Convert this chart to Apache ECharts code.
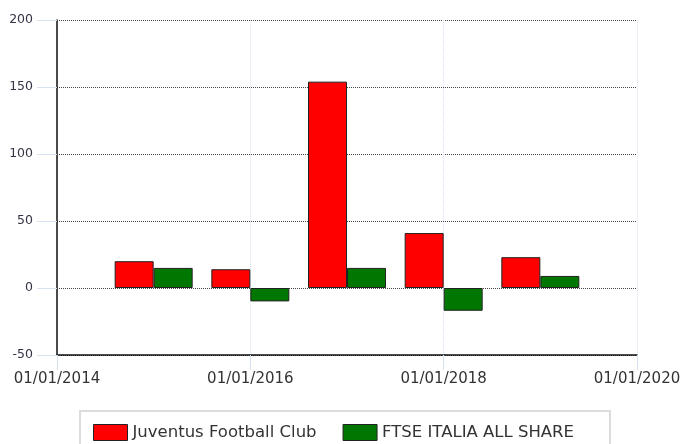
<!DOCTYPE html>
<html>
<head>
<meta charset="utf-8">
<script src="https://cdn.jsdelivr.net/npm/echarts@6/dist/echarts.min.js"></script>
<style>
html, body { margin: 0; padding: 0; background: #fff; }
#chart { width: 680px; height: 444px; }
</style>
</head>
<body>
<div id="chart"></div>
<script>
// bars sit on 1 January of each year
var years = [2015, 2016, 2017, 2018, 2019];
var juventus = [20, 14, 154, 41, 23];
var ftse = [15, -10, 15, -17, 9];
var seriesNames = ['Juventus Football Club', 'FTSE ITALIA ALL SHARE'];

function pairs(vals) {
    return years.map(function(y, i) { return [y, vals[i]]; });
}

var chart = echarts.init(document.getElementById('chart'));
var option = {
    animation: false,
    backgroundColor: '#fff',
    grid: { left: 57, right: 43, top: 20, bottom: 89, outerBoundsMode: 'none' },
    graphic: [{
        type: 'rect',
        shape: { x: 80, y: 411, width: 530, height: 40 },
        style: { fill: 'none', stroke: '#dcdcdc', lineWidth: 2 },
        silent: true
    }],
    legend: {
        left: 93, top: 424,
        padding: 0,
        icon: 'rect',
        itemWidth: 34, itemHeight: 16,
        itemGap: 26,
        itemStyle: { borderColor: '#222', borderWidth: 1 },
        textStyle: { fontFamily: 'DejaVu Sans', fontSize: 16.5, color: '#333' },
        data: seriesNames
    },
    xAxis: {
        type: 'value',
        min: 2014, max: 2020, interval: 2,
        axisLine: { onZero: false, lineStyle: { color: '#111', width: 1.5 } },
        axisTick: { show: true, length: 15, lineStyle: { color: '#d4e2f2' } },
        axisLabel: {
            margin: 17,
            fontFamily: 'DejaVu Sans', fontSize: 15, color: '#333',
            formatter: function(v) { return '01/01/' + v; }
        },
        splitLine: { show: true, lineStyle: { color: '#d4e2f2', type: 'dotted' } }
    },
    yAxis: {
        type: 'value',
        min: -50, max: 200, interval: 50,
        axisLine: { show: true, onZero: false, lineStyle: { color: '#111', width: 1.5 } },
        axisTick: { show: true, length: 20, lineStyle: { color: '#d4e2f2' } },
        axisLabel: { margin: 24, fontFamily: 'DejaVu Sans', fontSize: 12.5, color: '#334' },
        splitLine: { show: true, lineStyle: { color: '#444', type: 'dotted' } }
    },
    series: [{
        name: seriesNames[0],
        type: 'bar',
        barWidth: 39,
        barGap: 0,
        itemStyle: { color: '#ff0000', borderColor: '#222', borderWidth: 1 },
        data: pairs(juventus)
    }, {
        name: seriesNames[1],
        type: 'bar',
        barWidth: 39,
        barGap: 0,
        itemStyle: { color: '#007700', borderColor: '#222', borderWidth: 1 },
        data: pairs(ftse)
    }]
};
chart.setOption(option);
</script>
</body>
</html>
